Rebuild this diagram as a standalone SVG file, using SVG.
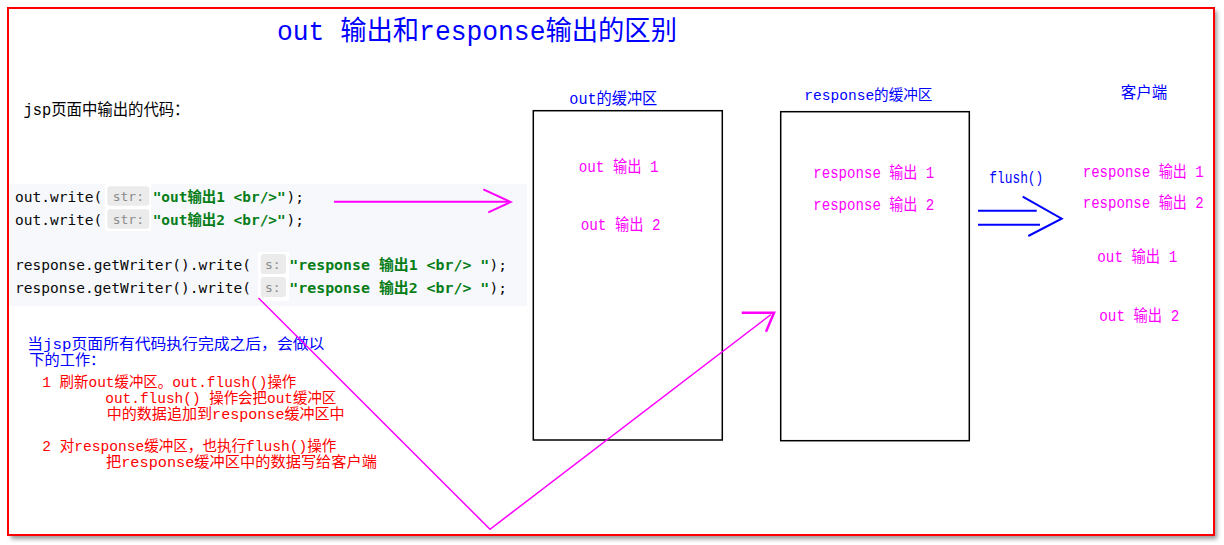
<svg xmlns="http://www.w3.org/2000/svg" width="1224" height="545" viewBox="0 0 1224 545">
<defs>
<style>
.cn{font-family:"Liberation Mono","Noto Sans CJK SC",monospace;}
.blue{fill:#0000ff;}
.mag{fill:#ff00ff;}
.red{fill:#ff0000;}
.code{font-family:"DejaVu Sans Mono","Noto Sans CJK SC",monospace;font-size:14.5px;fill:#080808;}
.str{font-weight:bold;fill:#067d17;}
.hintbox{fill:#ebebeb;}
.hint{font-family:"DejaVu Sans Mono",monospace;font-size:13px;fill:#8c8c8c;}
.buf{fill:none;stroke:#000;stroke-width:1.5;}
.mline{fill:none;stroke:#ff00ff;stroke-linejoin:miter;}
.bline{fill:none;stroke:#0000ff;stroke-width:2;}
.note{font-size:15px;}
</style>
<filter id="sh" x="-5%" y="-5%" width="110%" height="110%"><feGaussianBlur stdDeviation="2"/></filter>
</defs>
<rect width="1224" height="545" fill="#ffffff"/>
<g id="frame">
<rect x="11" y="11" width="1206" height="528" fill="#9a9a9a" filter="url(#sh)"/>
<rect x="8" y="8" width="1206" height="527" fill="#ffffff" stroke="#ff0000" stroke-width="2"/>
</g>
<g id="title">
<text class="cn blue" x="277" y="40" font-size="27" textLength="400" lengthAdjust="spacingAndGlyphs">out 输出和response输出的区别</text>
</g>
<g id="code-block">
<text class="cn" x="23.5" y="114.5" font-size="16" fill="#000" textLength="166" lengthAdjust="spacingAndGlyphs">jsp页面中输出的代码：</text>
<rect x="9" y="184" width="518" height="122" fill="#f6f8fc"/>
<rect x="105" y="184" width="46" height="47" fill="#ffffff"/>
<rect x="258" y="252" width="31" height="49" fill="#ffffff"/>
<rect class="hintbox" x="107.3" y="186.3" width="42" height="19.4" rx="3"/>
<rect class="hintbox" x="107.3" y="209.3" width="42" height="19.4" rx="3"/>
<rect class="hintbox" x="260.7" y="254" width="25.3" height="20" rx="3"/>
<rect class="hintbox" x="260.7" y="277" width="25.3" height="20" rx="3"/>
<text class="code" y="202"><tspan x="15">out.write(</tspan><tspan class="str" x="152.7" textLength="133" lengthAdjust="spacingAndGlyphs">"out输出1 &lt;br/&gt;"</tspan><tspan x="286.5">);</tspan></text>
<text class="hint" x="112.7" y="201">str:</text>
<text class="code" y="225"><tspan x="15">out.write(</tspan><tspan class="str" x="152.7" textLength="133" lengthAdjust="spacingAndGlyphs">"out输出2 &lt;br/&gt;"</tspan><tspan x="286.5">);</tspan></text>
<text class="hint" x="112.7" y="224">str:</text>
<text class="code" y="270"><tspan x="15" textLength="236" lengthAdjust="spacingAndGlyphs">response.getWriter().write(</tspan><tspan class="str" x="289.3" textLength="200" lengthAdjust="spacingAndGlyphs">"response 输出1 &lt;br/&gt; "</tspan><tspan x="489.5">);</tspan></text>
<text class="hint" x="265" y="269">s:</text>
<text class="code" y="293"><tspan x="15" textLength="236" lengthAdjust="spacingAndGlyphs">response.getWriter().write(</tspan><tspan class="str" x="289.3" textLength="200" lengthAdjust="spacingAndGlyphs">"response 输出2 &lt;br/&gt; "</tspan><tspan x="489.5">);</tspan></text>
<text class="hint" x="265" y="292">s:</text>
</g>
<g id="out-buffer">
<text class="cn blue" x="569.3" y="104" font-size="16" textLength="88" lengthAdjust="spacingAndGlyphs">out的缓冲区</text>
<rect class="buf" x="533.3" y="110.7" width="189" height="329.3"/>
<text class="cn mag" x="578.7" y="172" font-size="16" textLength="80" lengthAdjust="spacingAndGlyphs">out 输出 1</text>
<text class="cn mag" x="580.7" y="230" font-size="16" textLength="80" lengthAdjust="spacingAndGlyphs">out 输出 2</text>
</g>
<g id="response-buffer">
<text class="cn blue" x="804.3" y="99.5" font-size="14.5" textLength="128" lengthAdjust="spacingAndGlyphs">response的缓冲区</text>
<rect class="buf" x="780.7" y="111.7" width="188.6" height="329"/>
<text class="cn mag" x="813.3" y="178" font-size="16" textLength="121" lengthAdjust="spacingAndGlyphs">response 输出 1</text>
<text class="cn mag" x="813.3" y="209.5" font-size="16" textLength="121" lengthAdjust="spacingAndGlyphs">response 输出 2</text>
</g>
<g id="client">
<text class="cn blue" x="1120.7" y="97.5" font-size="15.5">客户端</text>
<text class="cn mag" x="1082.7" y="176.5" font-size="16" textLength="121" lengthAdjust="spacingAndGlyphs">response 输出 1</text>
<text class="cn mag" x="1082.7" y="207.5" font-size="16" textLength="121" lengthAdjust="spacingAndGlyphs">response 输出 2</text>
<text class="cn mag" x="1097.3" y="262" font-size="16" textLength="80" lengthAdjust="spacingAndGlyphs">out 输出 1</text>
<text class="cn mag" x="1099.3" y="320.5" font-size="16" textLength="80" lengthAdjust="spacingAndGlyphs">out 输出 2</text>
</g>
<g id="notes">
<text class="cn blue note" x="27.3" y="349" textLength="297" lengthAdjust="spacingAndGlyphs">当jsp页面所有代码执行完成之后，会做以</text>
<text class="cn blue note" x="29.3" y="364.5" textLength="76" lengthAdjust="spacingAndGlyphs">下的工作：</text>
<text class="cn red note" x="42.3" y="386.5" textLength="254" lengthAdjust="spacingAndGlyphs">1 刷新out缓冲区。out.flush()操作</text>
<text class="cn red note" x="105.3" y="402.5" textLength="231" lengthAdjust="spacingAndGlyphs">out.flush() 操作会把out缓冲区</text>
<text class="cn red note" x="106.7" y="418.5" textLength="238" lengthAdjust="spacingAndGlyphs">中的数据追加到response缓冲区中</text>
<text class="cn red note" x="42.3" y="451" textLength="294" lengthAdjust="spacingAndGlyphs">2 对response缓冲区，也执行flush()操作</text>
<text class="cn red note" x="106" y="467" textLength="271" lengthAdjust="spacingAndGlyphs">把response缓冲区中的数据写给客户端</text>
</g>
<g id="connectors">
<line class="mline" x1="334" y1="201.7" x2="508" y2="201.7" stroke-width="2"/>
<polyline class="mline" points="483.3,189.3 510.7,202 488.3,212.3" stroke-width="2"/>
<polyline class="mline" points="258.5,298 490,529.3 771,314.5" stroke-width="1.5"/>
<polyline class="mline" points="741.7,312.7 774,312.7 766,331.7" stroke-width="2.5"/>
<text class="cn blue" x="989.3" y="183" font-size="16" textLength="54" lengthAdjust="spacingAndGlyphs">flush()</text>
<line class="bline" x1="978" y1="210.7" x2="1036.7" y2="210.7"/>
<line class="bline" x1="978" y1="224.7" x2="1040" y2="224.7"/>
<polyline class="bline" points="1022.7,196.7 1061.7,218.7 1028.3,236"/>
</g>
</svg>
